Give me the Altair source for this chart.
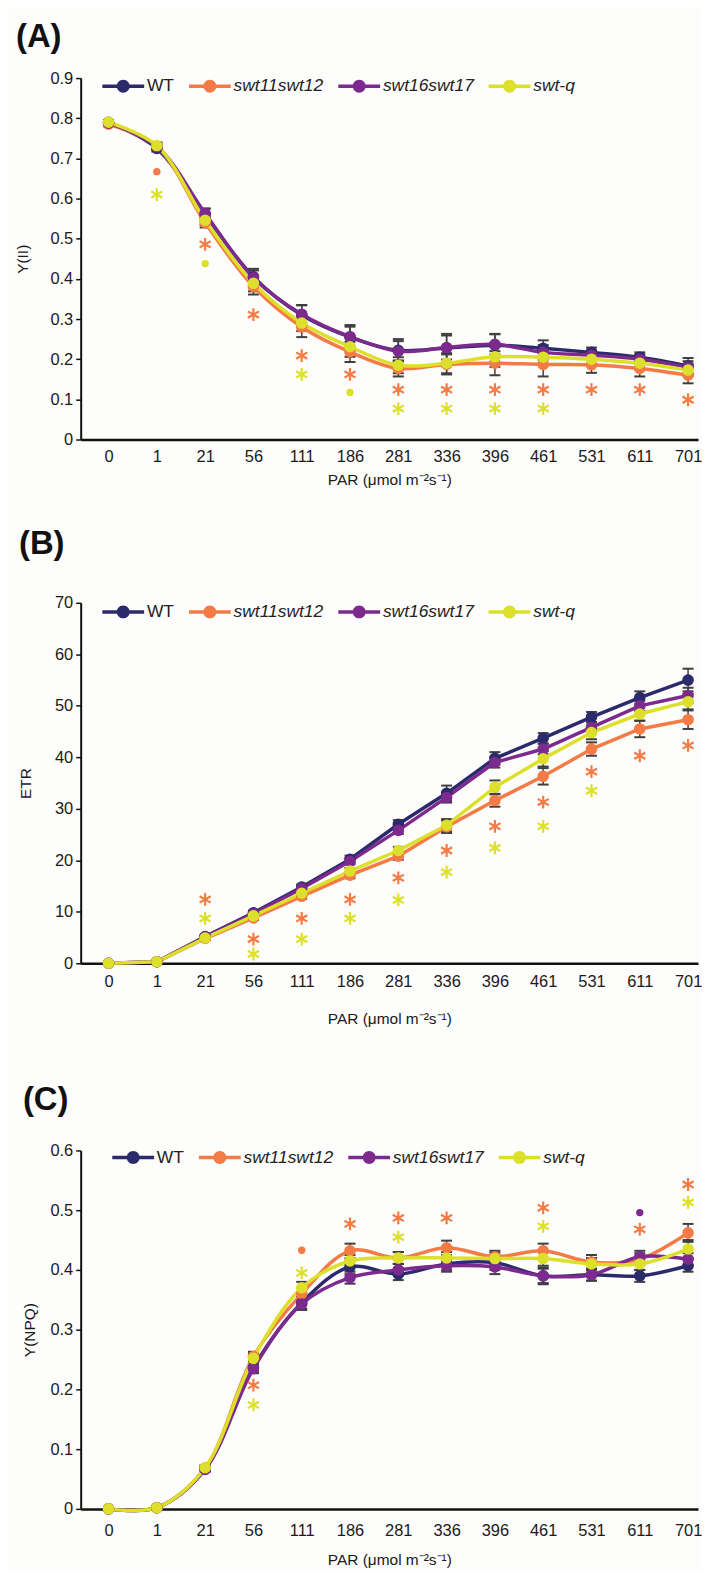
import altair as alt
import pandas as pd

PAR = ["0", "1", "21", "56", "111", "186", "281", "336", "396", "461", "531", "611", "701"]
SERIES = ["WT", "swt11swt12", "swt16swt17", "swt-q"]
COLORS = ["#2b2a6b", "#f47b45", "#7d2a8e", "#dde02a"]

# ---------------- Panel A : Y(II) ----------------
A_WT = [0.790, 0.725, 0.560, 0.405, 0.310, 0.255, 0.222, 0.228, 0.235, 0.227, 0.217, 0.205, 0.183]
A_S1112 = [0.785, 0.730, 0.540, 0.381, 0.280, 0.218, 0.177, 0.187, 0.190, 0.187, 0.186, 0.177, 0.160]
A_S1617 = [0.788, 0.730, 0.563, 0.403, 0.312, 0.256, 0.220, 0.229, 0.237, 0.217, 0.210, 0.200, 0.180]
A_SQ = [0.790, 0.732, 0.546, 0.389, 0.290, 0.231, 0.185, 0.190, 0.206, 0.205, 0.200, 0.190, 0.173]
A_WT_E = [0.005, 0.008, 0.015, 0.020, 0.025, 0.030, 0.028, 0.035, 0.028, 0.020, 0.012, 0.012, 0.020]
A_S1112_E = [0.005, 0.008, 0.012, 0.020, 0.025, 0.025, 0.020, 0.025, 0.030, 0.030, 0.020, 0.020, 0.020]
A_S1617_E = [0.005, 0.008, 0.012, 0.018, 0.022, 0.025, 0.025, 0.030, 0.025, 0.018, 0.012, 0.012, 0.015]
A_SQ_E = [0.005, 0.008, 0.012, 0.020, 0.020, 0.025, 0.020, 0.025, 0.025, 0.020, 0.015, 0.015, 0.015]
A_SIG_IDX = [1, 1, 2, 2, 3, 4, 4, 5, 5, 6, 6, 7, 7, 8, 8, 9, 9, 10, 11, 12]
A_SIG_Y = [0.667, 0.610, 0.486, 0.438, 0.311, 0.209, 0.162, 0.162, 0.117, 0.124, 0.077, 0.124, 0.077,
           0.124, 0.077, 0.124, 0.077, 0.124, 0.124, 0.099]
A_SIG_KIND = ["dot", "ast", "ast", "dot", "ast", "ast", "ast", "ast", "dot", "ast", "ast", "ast", "ast",
              "ast", "ast", "ast", "ast", "ast", "ast", "ast"]
A_SIG_SER = ["swt11swt12", "swt-q", "swt11swt12", "swt-q", "swt11swt12", "swt11swt12", "swt-q",
             "swt11swt12", "swt-q", "swt11swt12", "swt-q", "swt11swt12", "swt-q", "swt11swt12", "swt-q",
             "swt11swt12", "swt-q", "swt11swt12", "swt11swt12", "swt11swt12"]

# ---------------- Panel B : ETR ----------------
B_WT = [0, 0.3, 5.2, 9.8, 14.8, 20.2, 27.0, 33.0, 39.8, 43.7, 47.8, 51.6, 55.0]
B_S1112 = [0, 0.3, 4.8, 8.8, 13.0, 17.1, 20.8, 26.5, 31.6, 36.3, 41.6, 45.5, 47.3]
B_S1617 = [0, 0.3, 5.1, 9.6, 14.5, 19.8, 25.8, 32.2, 39.0, 41.6, 45.8, 50.0, 52.0]
B_SQ = [0, 0.3, 4.9, 9.2, 13.6, 17.9, 21.9, 26.8, 34.2, 39.7, 44.8, 48.4, 50.8]
B_WT_E = [0, 0.1, 0.3, 0.4, 0.5, 0.7, 0.8, 1.5, 1.2, 1.0, 1.0, 1.2, 2.2]
B_S1112_E = [0, 0.1, 0.3, 0.4, 0.5, 0.6, 0.7, 1.2, 1.2, 1.6, 1.3, 1.6, 1.8]
B_S1617_E = [0, 0.1, 0.3, 0.4, 0.5, 0.6, 0.7, 1.0, 1.0, 1.0, 1.0, 1.0, 1.5]
B_SQ_E = [0, 0.1, 0.3, 0.4, 0.5, 0.6, 0.7, 1.2, 1.3, 1.5, 1.3, 1.3, 1.5]
B_SIG_IDX = [2, 2, 3, 3, 4, 4, 5, 5, 6, 6, 7, 7, 8, 8, 9, 9, 10, 10, 11, 12]
B_SIG_Y = [12.4, 8.7, 4.7, 1.8, 8.7, 4.7, 12.4, 8.7, 16.6, 12.3, 21.9, 17.7, 26.6, 22.4, 31.3, 26.6,
           37.2, 33.5, 40.3, 42.3]
B_SIG_KIND = ["ast"] * 20
B_SIG_SER = ["swt11swt12", "swt-q"] * 9 + ["swt11swt12", "swt11swt12"]

# ---------------- Panel C : Y(NPQ) ----------------
C_WT = [0, 0.002, 0.068, 0.237, 0.345, 0.405, 0.393, 0.410, 0.412, 0.390, 0.392, 0.390, 0.407]
C_S1112 = [0, 0.002, 0.068, 0.255, 0.360, 0.432, 0.420, 0.437, 0.422, 0.432, 0.413, 0.418, 0.462]
C_S1617 = [0, 0.002, 0.066, 0.235, 0.343, 0.387, 0.400, 0.407, 0.405, 0.390, 0.392, 0.422, 0.418]
C_SQ = [0, 0.002, 0.069, 0.252, 0.370, 0.415, 0.420, 0.420, 0.419, 0.419, 0.410, 0.410, 0.435]
C_WT_E = [0, 0.002, 0.004, 0.008, 0.010, 0.012, 0.010, 0.010, 0.012, 0.012, 0.010, 0.010, 0.010]
C_S1112_E = [0, 0.002, 0.004, 0.008, 0.010, 0.012, 0.010, 0.012, 0.010, 0.012, 0.012, 0.010, 0.015]
C_S1617_E = [0, 0.002, 0.004, 0.008, 0.010, 0.010, 0.010, 0.010, 0.012, 0.014, 0.010, 0.010, 0.010]
C_SQ_E = [0, 0.002, 0.004, 0.008, 0.010, 0.010, 0.010, 0.010, 0.010, 0.012, 0.010, 0.010, 0.015]
C_SIG_IDX = [3, 3, 4, 4, 5, 6, 6, 7, 9, 9, 11, 11, 12, 12]
C_SIG_Y = [0.207, 0.174, 0.433, 0.395, 0.477, 0.487, 0.455, 0.487, 0.504, 0.473, 0.496, 0.468, 0.543, 0.513]
C_SIG_KIND = ["ast", "ast", "dot", "ast", "ast", "ast", "ast", "ast", "ast", "ast", "dot", "ast", "ast", "ast"]
C_SIG_SER = ["swt11swt12", "swt-q", "swt11swt12", "swt-q", "swt11swt12", "swt11swt12", "swt-q",
             "swt11swt12", "swt11swt12", "swt-q", "swt16swt17", "swt11swt12", "swt11swt12", "swt-q"]

FONT = "Liberation Sans"
# legend glyph: a bar with a disc, drawn wider than its 14px layout box
LEG_SYMBOL = ("M-3,-0.25H3V0.25H-3Z "
              "M-0.93,0A0.93,0.93 0 1,1 0.93,0A0.93,0.93 0 1,1 -0.93,0Z")
AST = "M0,-1L0,1M-0.866,-0.5L0.866,0.5M-0.866,0.5L0.866,-0.5"
LABEL_EXPR = "[" + ",".join("'" + p + "'" for p in PAR) + "][datum.value]"
ERR_COLOR = "#3f3f3f"


def long_df(vals, errs):
    rows = []
    for k, (s, v, e) in enumerate(zip(SERIES, vals, errs)):
        for i, (y, d) in enumerate(zip(v, e)):
            rows.append({"idx": i, "series": s, "value": y, "lo": y - d, "hi": y + d, "k": k})
    return pd.DataFrame(rows)


def sig_df(idx, ys, kinds, sers):
    return pd.DataFrame({"idx": idx, "y": ys, "kind": kinds, "series": sers})


def panel(letter, vals, errs, sig, ymax, ystep, yfmt, ytitle, interp, title_offset,
          xlabel_pad, xtitle_pad, ytitle_pad, legend_x, legend_y, height):
    df = long_df(vals, errs)
    sdf = sig_df(*sig)
    xscale = alt.Scale(domain=[-0.577, 12.206], nice=False, zero=False)
    xaxis = alt.Axis(values=list(range(13)), labelExpr=LABEL_EXPR, title="PAR (μmol m⁻²s⁻¹)",
                     ticks=False, grid=False, domainColor="#111", domainWidth=2.5,
                     labelFont=FONT, labelFontSize=16.5, labelColor="#1a1a1a", labelPadding=xlabel_pad,
                     labelFlush=False, labelOverlap=False, titleFont=FONT, titleFontSize=15.5,
                     titleFontWeight="normal", titleColor="#1a1a1a", titlePadding=xtitle_pad)
    nt = int(round(ymax / ystep))
    yvals = [round(i * ystep, 4) for i in range(nt + 1)]
    yscale = alt.Scale(domain=[0, ymax], nice=False, zero=True)
    yaxis = alt.Axis(values=yvals, format=yfmt, title=ytitle, grid=False, tickSize=5, tickWidth=1.5,
                     tickColor="#111", domainColor="#111", domainWidth=2, labelFont=FONT,
                     labelFontSize=16.5, labelColor="#1a1a1a", labelPadding=3, minExtent=32,
                     maxExtent=32, titleFont=FONT, titleFontSize=15.5, titleFontWeight="normal",
                     titleColor="#1a1a1a", titlePadding=ytitle_pad)
    cscale = alt.Scale(domain=SERIES, range=COLORS)
    legend = alt.Legend(title=None, orient="none", legendX=legend_x, legendY=legend_y,
                        direction="horizontal", symbolType=LEG_SYMBOL, symbolSize=196,
                        symbolStrokeWidth=0, symbolOpacity=1, labelFont=FONT, labelFontSize=17.5,
                        labelFontStyle={"expr": "datum.value == 'WT' ? 'normal' : 'italic'"},
                        labelColor="#222", labelOffset=15, columnPadding=14, padding=0)
    X = alt.X("idx:Q", scale=xscale, axis=xaxis)
    base = alt.Chart(df)
    err = base.mark_rule(color=ERR_COLOR, strokeWidth=1.5).encode(
        x=X, y=alt.Y("lo:Q", scale=yscale, axis=yaxis), y2="hi:Q")
    cap_hi = base.mark_tick(orient="horizontal", color=ERR_COLOR, size=11, thickness=2, opacity=1).encode(
        x=X, y=alt.Y("hi:Q", scale=yscale))
    cap_lo = base.mark_tick(orient="horizontal", color=ERR_COLOR, size=11, thickness=2, opacity=1).encode(
        x=X, y=alt.Y("lo:Q", scale=yscale))
    lines = base.mark_line(strokeWidth=3.5, interpolate=interp).encode(
        x=X, y=alt.Y("value:Q", scale=yscale),
        color=alt.Color("series:N", scale=cscale, legend=None), detail="series:N")
    points = base.mark_point(filled=True, size=135, opacity=1).encode(
        x=X, y=alt.Y("value:Q", scale=yscale),
        color=alt.Color("series:N", scale=cscale, legend=legend), order="k:Q")
    ast = alt.Chart(sdf).transform_filter("datum.kind == 'ast'").mark_point(
        shape=AST, filled=False, strokeWidth=2.2, size=165, opacity=1).encode(
        x=X, y=alt.Y("y:Q", scale=yscale), color=alt.Color("series:N", scale=cscale, legend=None))
    dot = alt.Chart(sdf).transform_filter("datum.kind == 'dot'").mark_point(
        shape="circle", filled=True, size=55, opacity=1).encode(
        x=X, y=alt.Y("y:Q", scale=yscale), color=alt.Color("series:N", scale=cscale, legend=None))
    return alt.layer(err, cap_hi, cap_lo, lines, points, ast, dot).resolve_legend(
        color="independent").properties(
        width=620, height=height,
        title=alt.TitleParams(text=letter, anchor="start", frame="bounds", fontSize=33,
                              fontWeight="bold", font=FONT, color="#111", offset=title_offset))


pA = panel("(A)", [A_WT, A_S1112, A_S1617, A_SQ], [A_WT_E, A_S1112_E, A_S1617_E, A_SQ_E],
           (A_SIG_IDX, A_SIG_Y, A_SIG_KIND, A_SIG_SER), 0.9, 0.1, ".1~f", "Y(II)", "catmull-rom",
           16, 9, 8, 18, 34, -1, 363)
pB = panel("(B)", [B_WT, B_S1112, B_S1617, B_SQ], [B_WT_E, B_S1112_E, B_S1617_E, B_SQ_E],
           (B_SIG_IDX, B_SIG_Y, B_SIG_KIND, B_SIG_SER), 70, 10, "d", "ETR", "linear",
           34, 10, 22, 15, 34, 0, 362)
pC = panel("(C)", [C_WT, C_S1112, C_S1617, C_SQ], [C_WT_E, C_S1112_E, C_S1617_E, C_SQ_E],
           (C_SIG_IDX, C_SIG_Y, C_SIG_KIND, C_SIG_SER), 0.6, 0.1, ".1~f", "Y(NPQ)", "catmull-rom",
           26, 14, 13, 11, 44, -2, 360)

chart = alt.vconcat(alt.vconcat(pA, pB, spacing=40), pC, spacing=57).properties(
    padding={"left": 8, "top": 10, "right": 0, "bottom": 0},
    background="#fdfdfb",
).configure_view(stroke=None)

chart.save("out.html", embed_options={"renderer": "svg", "actions": False})
